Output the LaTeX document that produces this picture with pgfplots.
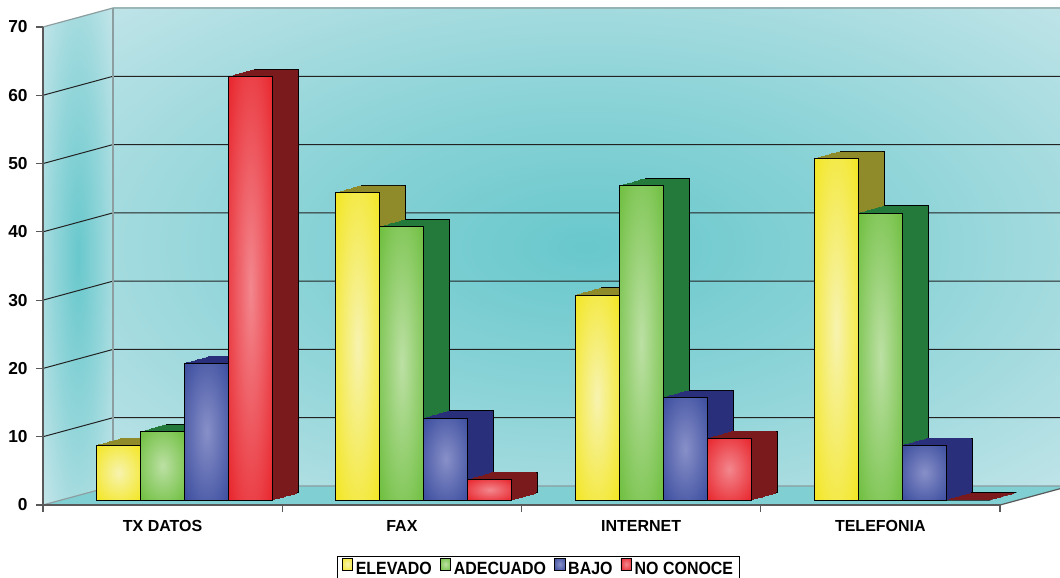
\documentclass[border=0pt]{standalone}
\usepackage{pgfplots}
\pgfplotsset{compat=1.18}
\usepackage{pgfplotstable}
\usepackage{fontspec}
\setmainfont{Liberation Sans}
\newfontfamily\legfont[FakeStretch=0.9]{Liberation Sans}

\definecolor{yel}{HTML}{F3E61E}
\definecolor{yellight}{HTML}{F7F3B0}
\definecolor{yeldark}{HTML}{8F8B2B}
\definecolor{grn}{HTML}{6DBE3D}
\definecolor{grnlight}{HTML}{BCE0A4}
\definecolor{grndark}{HTML}{237A3A}
\definecolor{blu}{HTML}{3A4C9E}
\definecolor{blulight}{HTML}{8890C8}
\definecolor{bludark}{HTML}{2A2F7C}
\definecolor{red}{HTML}{E8232A}
\definecolor{redlight}{HTML}{F3878E}
\definecolor{reddark}{HTML}{7A1A1C}
\definecolor{wall}{HTML}{C0E4E8}
\definecolor{glow}{HTML}{68C8CC}
\definecolor{floorc}{HTML}{7FCFD3}
\definecolor{gridc}{HTML}{222222}
\definecolor{framec}{HTML}{8C9EA0}

\pgfdeclareradialshading{wallglow}{\pgfpoint{0bp}{0bp}}{color(0bp)=(glow); color(16bp)=(glow!60!wall); color(36bp)=(wall); color(50bp)=(wall)}
\pgfdeclareradialshading{leftglow}{\pgfpoint{0bp}{0bp}}{color(0bp)=(glow); color(18bp)=(glow!50!wall); color(34bp)=(wall); color(50bp)=(wall)}
\pgfdeclareradialshading{yshade}{\pgfpoint{0bp}{0bp}}{color(0bp)=(yellight); color(16bp)=(yellight!55!yel); color(36bp)=(yel); color(50bp)=(yel)}
\pgfdeclareradialshading{gshade}{\pgfpoint{0bp}{0bp}}{color(0bp)=(grnlight); color(16bp)=(grnlight!55!grn); color(36bp)=(grn); color(50bp)=(grn)}
\pgfdeclareradialshading{bshade}{\pgfpoint{0bp}{0bp}}{color(0bp)=(blulight); color(16bp)=(blulight!55!blu); color(36bp)=(blu); color(50bp)=(blu)}
\pgfdeclareradialshading{rshade}{\pgfpoint{0bp}{0bp}}{color(0bp)=(redlight); color(16bp)=(redlight!55!red); color(36bp)=(red); color(50bp)=(red)}

\pgfplotstableread{
x elevado adecuado bajo noconoce
0 8  10 20 62
1 45 40 12 3
2 30 46 15 9
3 50 42 8  0
}\data

% depth (3D extrusion) of one series: #1 column, #2 bar shift, #3 colour
\newcommand{\depth}[3]{%
  \addplot[ybar, bar width=33pt, bar shift=#2, fill=#3, draw=black, line width=0.6pt,
    xshift=19.5pt, yshift=9.25pt, forget plot] table[x=x,y=#1]{\data};
  \pgfplotsinvokeforeach{11,10,...,1}{%
    \addplot[ybar, bar width=33pt, bar shift=#2, fill=#3, draw=#3, line width=0.5pt,
      xshift=##1*1.625pt, yshift=3.75pt+##1*0.4583pt, forget plot] table[x=x,y=#1]{\data};
  }%
}
% front faces, one path per bar so that each bar gets its own shading
% #1 column, #2 bar shift, #3 shading, #4 legend colour, #5 legend text
\newcommand{\front}[5]{%
  \addplot[ybar, bar width=33pt, bar shift=#2, shade, shading=#3, draw=black, line width=0.7pt,
    yshift=3.75pt, restrict x to domain=-0.2:0.2,
    legend image code/.code={\filldraw[fill=#4, draw=black, line width=0.6pt] (0pt,-4.5pt) rectangle (8pt,4.5pt);}]
    table[x=x,y=#1]{\data};
  \addlegendentry{#5}
  \addplot[ybar, bar width=33pt, bar shift=#2, shade, shading=#3, draw=black, line width=0.7pt,
    yshift=3.75pt, restrict x to domain=0.8:1.2, forget plot] table[x=x,y=#1]{\data};
  \addplot[ybar, bar width=33pt, bar shift=#2, shade, shading=#3, draw=black, line width=0.7pt,
    yshift=3.75pt, restrict x to domain=1.8:2.2, forget plot] table[x=x,y=#1]{\data};
  \addplot[ybar, bar width=33pt, bar shift=#2, shade, shading=#3, draw=black, line width=0.7pt,
    yshift=3.75pt, restrict x to domain=2.8:3.2, forget plot] table[x=x,y=#1]{\data};
}

\begin{document}
\begin{tikzpicture}
\fill[white] (-32.25pt,-54.75pt) rectangle (762.75pt,378.75pt);
% back wall
\shade[shading=wallglow] (52.5pt,14.25pt) rectangle (762.75pt,372.75pt);
% left wall
\shade[shading=leftglow] (0pt,0pt) -- (52.5pt,14.25pt) -- (52.5pt,372.75pt) -- (0pt,358.5pt) -- cycle;
% floor
\fill[floorc] (0pt,0pt) -- (717.75pt,0pt) -- (770.25pt,14.25pt) -- (52.5pt,14.25pt) -- cycle;
% grid lines
\foreach \v in {1,...,6} {
  \draw[gridc, line width=0.75pt] (0pt,\v*51.2143pt) -- (52.5pt,\v*51.2143pt+14.25pt) -- (762.75pt,\v*51.2143pt+14.25pt);
}
\draw[framec, line width=0.9pt] (0pt,358.5pt) -- (52.5pt,372.75pt) -- (762.75pt,372.75pt);
\draw[framec, line width=0.9pt] (52.5pt,14.25pt) -- (52.5pt,372.75pt);
\draw[framec, line width=0.9pt] (0pt,0pt) -- (52.5pt,14.25pt) -- (770.25pt,14.25pt);
\draw[black!65, line width=0.9pt] (717.75pt,0pt) -- (770.25pt,14.25pt);

\begin{axis}[
  at={(0pt,0pt)}, anchor=south west,
  scale only axis, width=717.75pt, height=358.5pt,
  xmin=-0.5, xmax=3.5, ymin=0, ymax=70,
  clip=false,
  axis lines=left,
  axis line style={-, draw=black!65, line width=1.2pt},
  xtick={-0.5,0.5,1.5,2.5,3.5},
  xticklabels={,,,,},
  extra x ticks={0,1,2,3},
  extra x tick labels={TX DATOS,FAX,INTERNET,TELEFONIA},
  extra x tick style={major tick length=0pt,
    xticklabel style={yshift=-8pt, font=\bfseries\fontsize{12}{12}\selectfont}},
  ytick={0,10,...,70},
  yticklabel style={xshift=-3pt, font=\bfseries\fontsize{13}{13}\selectfont},
  /pgf/number format/assume math mode=true,
  tick align=outside,
  major tick length=5pt,
  tick style={draw=black!65, line width=0.9pt},
  legend columns=4,
  legend cell align=left,
  legend style={at={(axis description cs:0.518,-0.1067)}, anchor=north,
    draw=black, line width=0.6pt, fill=white,
    font=\legfont\bfseries\fontsize{13.3}{15}\selectfont,
    inner xsep=3pt, inner ysep=1pt,
    /tikz/every even column/.append style={column sep=4pt}},
]
\depth{elevado}{-33pt}{yeldark}
\front{elevado}{-33pt}{yshade}{yel}{ELEVADO}
\depth{adecuado}{0pt}{grndark}
\front{adecuado}{0pt}{gshade}{grn}{ADECUADO}
\depth{bajo}{33pt}{bludark}
\front{bajo}{33pt}{bshade}{blu}{BAJO}
\depth{noconoce}{66pt}{reddark}
\front{noconoce}{66pt}{rshade}{red}{NO CONOCE}
\end{axis}
\pgfresetboundingbox
\path[use as bounding box] (-32.25pt,-54.75pt) rectangle (762.75pt,378.75pt);
\end{tikzpicture}
\end{document}
